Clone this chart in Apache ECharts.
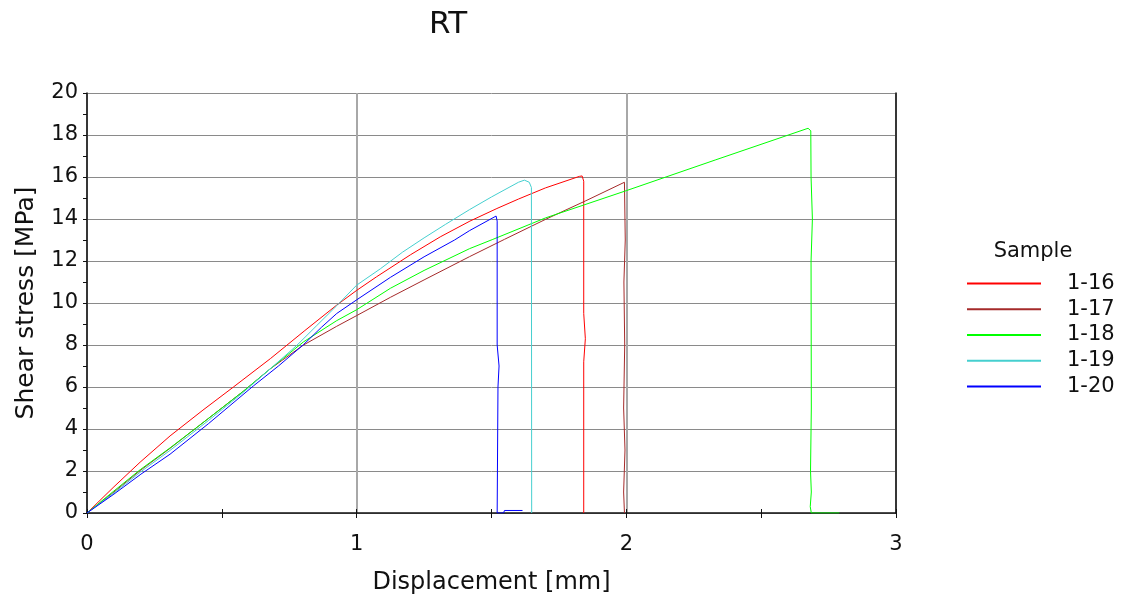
<!DOCTYPE html>
<html>
<head>
<meta charset="utf-8">
<script src="https://cdn.jsdelivr.net/npm/echarts@6/dist/echarts.min.js"></script>
<style>html,body{margin:0;padding:0;background:#fff;}#c{width:1129px;height:600px;}</style>
</head>
<body>
<div id="c"></div>
<script>
const titleText = 'RT';
const xName = 'Displacement [mm]';
const yName = 'Shear stress [MPa]';
const legendTitle = 'Sample';
const names = ['1-16', '1-17', '1-18', '1-19', '1-20'];
const colors = ['#ff0000', '#a52a2a', '#00ff00', '#45cfcf', '#0000ff'];

const s16 = [[0,0],[0.1,1.25],[0.197,2.42],[0.308,3.67],[0.43,4.9],[0.543,6.0],[0.68,7.35],[0.808,8.69],[0.926,9.9],[1.0,10.6],[1.074,11.25],[1.2,12.3],[1.31,13.15],[1.42,13.9],[1.52,14.5],[1.6,14.95],[1.7,15.48],[1.826,16.03],[1.836,16.05],[1.842,15.8],[1.842,9.5],[1.848,8.3],[1.842,7.2],[1.842,0]];
const s17 = [[0,0],[0.1,1.0],[0.197,2.02],[0.308,3.08],[0.45,4.5],[0.58,5.8],[0.68,6.87],[0.803,8.0],[0.926,8.89],[1.0,9.4],[1.125,10.27],[1.25,11.1],[1.419,12.21],[1.548,13.03],[1.7,13.98],[1.85,14.87],[1.993,15.75],[1.996,15.7],[1.996,13],[1.991,11],[1.994,8],[1.99,5],[1.995,3],[1.99,1],[1.993,0]];
const s18 = [[0,0],[0.1,1.05],[0.197,2.06],[0.308,3.1],[0.45,4.5],[0.58,5.8],[0.68,6.87],[0.803,8.15],[0.926,9.16],[1.0,9.68],[1.125,10.7],[1.25,11.55],[1.419,12.59],[1.505,13.03],[1.7,14.05],[2.0,15.35],[2.332,16.82],[2.674,18.32],[2.684,18.2],[2.685,16],[2.69,14],[2.685,12],[2.686,5],[2.683,2],[2.686,1],[2.682,0.3],[2.686,0],[2.79,0]];
const s19 = [[0,0],[0.1,0.95],[0.197,1.94],[0.308,2.98],[0.45,4.4],[0.58,5.75],[0.68,6.87],[0.778,7.98],[0.85,8.9],[0.926,9.87],[1.0,10.85],[1.088,11.63],[1.17,12.42],[1.25,13.1],[1.33,13.75],[1.419,14.45],[1.5,15.05],[1.55,15.4],[1.6,15.75],[1.622,15.85],[1.64,15.75],[1.648,15.5],[1.649,0]];
const s20 = [[0,0],[0.1,0.9],[0.2,1.85],[0.308,2.8],[0.45,4.25],[0.617,6.05],[0.71,7.0],[0.803,8.02],[0.87,8.85],[0.926,9.5],[1.0,10.15],[1.125,11.22],[1.25,12.2],[1.363,13.0],[1.419,13.45],[1.517,14.14],[1.521,13.9],[1.521,8],[1.528,7],[1.524,6],[1.521,0],[1.545,0],[1.548,0.12],[1.615,0.12]];
const seriesData = [s16, s17, s18, s19, s20];

const FONT = 'DejaVu Sans';
const chart = echarts.init(document.getElementById('c'), null, {renderer: 'canvas'});
const opt = {
  animation: false,
  backgroundColor: '#fff',
  textStyle: {fontFamily: FONT},
  grid: {left: 87, right: 233, top: 93, bottom: 85, containLabel: false},
  graphic: [
    {type: 'text', x: 448, y: 25, style: {text: titleText, font: '31px "DejaVu Sans"', fill: '#111', textAlign: 'center', textVerticalAlign: 'middle'}},
    {type: 'text', x: 1033, y: 252, style: {text: legendTitle, font: '21px "DejaVu Sans"', fill: '#111', textAlign: 'center', textVerticalAlign: 'middle'}}
  ],
  legend: {
    orient: 'vertical', left: 967, top: 273, padding: 0,
    itemWidth: 74, itemHeight: 2, itemGap: 4.75, icon: 'rect',
    textStyle: {fontFamily: FONT, fontSize: 21, color: '#111', lineHeight: 20, padding: [0, 0, 0, 21]},
    data: names
  },
  xAxis: [{
    type: 'value', min: 0, max: 3, interval: 1,
    name: xName, nameLocation: 'middle', nameGap: 58,
    nameTextStyle: {fontFamily: FONT, fontSize: 24, color: '#111'},
    axisLine: {show: true, onZero: false, lineStyle: {color: '#111', width: 1.5}},
    axisTick: {show: true, length: 5, lineStyle: {color: '#111'}},
    minorTick: {show: true, splitNumber: 2, length: 5, lineStyle: {color: '#111'}},
    axisLabel: {fontFamily: FONT, fontSize: 21, color: '#111', margin: 21},
    splitLine: {show: true, lineStyle: {color: '#a8a8a8', width: 2}}
  }, {
    type: 'value', min: 0, max: 3, interval: 1, position: 'bottom',
    axisLine: {show: false},
    axisTick: {show: true, inside: true, length: 4, lineStyle: {color: '#111'}},
    minorTick: {show: true, splitNumber: 2, length: 4, lineStyle: {color: '#111'}},
    axisLabel: {show: false}, splitLine: {show: false}
  }],
  yAxis: [{
    type: 'value', min: 0, max: 20, interval: 2,
    name: yName, nameLocation: 'middle', nameGap: 48,
    nameTextStyle: {fontFamily: FONT, fontSize: 25, color: '#111'},
    axisLine: {show: true, onZero: false, lineStyle: {color: '#111', width: 1.5}},
    axisTick: {show: true, length: 4, lineStyle: {color: '#111'}},
    minorTick: {show: true, splitNumber: 2, length: 4, lineStyle: {color: '#111'}},
    axisLabel: {fontFamily: FONT, fontSize: 21, color: '#111', margin: 9, padding: [0, 0, 6, 0]},
    splitLine: {show: true, lineStyle: {color: '#8a8a8a', width: 1}}
  }, {
    type: 'value', min: 0, max: 20, interval: 2, position: 'right',
    axisLine: {show: true, onZero: false, lineStyle: {color: '#111', width: 1.5}},
    axisTick: {show: false}, axisLabel: {show: false}, splitLine: {show: false}
  }],
  series: names.map((n, i) => ({
    name: n, type: 'line', data: seriesData[i], xAxisIndex: 0, yAxisIndex: 0,
    showSymbol: false, symbol: 'none', smooth: false,
    color: colors[i],
    lineStyle: {color: colors[i], width: 1},
    emphasis: {disabled: true}
  }))
};
chart.setOption(opt);
</script>
</body>
</html>
